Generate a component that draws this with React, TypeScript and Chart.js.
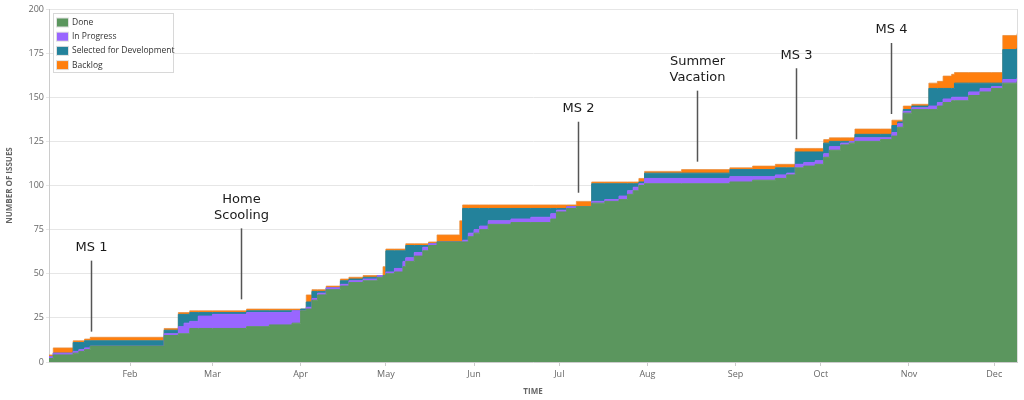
import React, { useEffect, useRef } from 'react';
import { Chart, registerables } from 'chart.js';

Chart.register(...registerables);

// Day of year (2020, Jan 1 = 0)
const days = [
  2.5, 4, 11, 13, 15, 17, 43, 48, 50, 52, 55, 60, 72, 80, 88, 91, 93, 95, 97, 100,
  105, 108, 113, 118, 120, 121, 124, 127, 128, 131, 134, 136, 139, 147, 148, 150, 152, 154, 157, 165,
  172, 179, 181, 184.6, 188, 193.4, 198, 203, 206, 208, 210, 212, 225, 242, 250, 258, 262, 265, 268, 272,
  275, 277, 281, 284, 286, 295, 299, 301, 303, 306, 312, 315, 317, 320, 321, 326, 330, 334, 338, 343,
];

// Cumulative counts: issues that reached each status
const doneCum = [
  2, 4, 5, 6, 7, 9, 15, 16, 16, 19, 19, 19, 20, 21, 22, 29, 30, 35, 38, 41,
  43, 45, 46, 48, 49, 50, 51, 54, 57, 60, 63, 66, 68, 68, 68, 71, 73, 75, 78, 79,
  79, 81, 85, 87, 88, 90, 91, 92, 95, 97, 100, 101, 101, 102, 103, 104, 106, 110, 111, 112,
  116, 120, 123, 124, 125, 126, 128, 133, 141, 143, 143, 145, 147, 148, 148, 151, 153, 155, 158, 159,
];
const inProgressCum = [
  3, 5, 6, 7, 8, 9, 16, 20, 22, 23, 26, 27, 28, 28, 29, 29, 31, 36, 39, 42,
  44, 46, 47, 49, 49, 51, 53, 57, 59, 62, 65, 67, 68, 68, 69, 73, 75, 77, 80, 81,
  82, 84, 86, 88, 88, 91, 92, 94, 97, 99, 101, 104, 104, 105, 105, 106, 107, 112, 113, 114,
  118, 122, 124, 125, 127, 127, 130, 135, 142, 144, 145, 147, 149, 150, 150, 153, 155, 156, 160, 161,
];
const selectedCum = [
  3, 5, 11, 11, 12, 12, 18, 27, 27, 28, 28, 28, 29, 29, 29, 30, 34, 40, 40, 42,
  46, 47, 48, 49, 49, 63, 63, 63, 66, 66, 66, 67, 68, 68, 87, 87, 87, 87, 87, 87,
  87, 87, 87, 88, 88, 101, 101, 101, 101, 101, 102, 107, 107, 109, 109, 110, 110, 119, 119, 119,
  124, 125, 125, 125, 129, 129, 134, 136, 143, 145, 155, 155, 155, 155, 158, 158, 158, 158, 177, 178,
];
const backlogCum = [
  4, 8, 12, 12, 13, 14, 19, 28, 28, 29, 29, 29, 30, 30, 30, 30, 38, 41, 41, 43,
  47, 48, 49, 49, 54, 64, 64, 64, 67, 67, 67, 68, 72, 80, 89, 89, 89, 89, 89, 89,
  89, 89, 89, 89, 91, 102, 102, 102, 102, 102, 104, 108, 109, 110, 111, 112, 112, 121, 121, 121,
  126, 127, 127, 127, 132, 132, 137, 137, 145, 146, 158, 159, 162, 163, 164, 164, 164, 164, 185, 186,
];

const seriesNames = ['Done', 'In Progress', 'Selected for Development', 'Backlog'];
const seriesColors = ['#5b965e', '#9966ff', '#23829b', '#ff7f0e'];
const seriesBorders = ['#5b965e', '#9966ff', '#23829b', 'rgba(230,140,60,0.75)'];

const monthDays = [31, 60, 91, 121, 152, 182, 213, 244, 274, 305, 335];
const monthLabels = ['Feb', 'Mar', 'Apr', 'May', 'Jun', 'Jul', 'Aug', 'Sep', 'Oct', 'Nov', 'Dec'];

const annLabels = [['MS 1'], ['Home', 'Scooling'], ['MS 2'], ['Summer', 'Vacation'], ['MS 3'], ['MS 4']];
const annDays = [17.2, 70.1, 188.5, 230.3, 265.1, 298.8];
const annValues = [17.2, 35.5, 95.9, 113.5, 126.2, 140.5];

const overlayPlugin = {
  id: 'overlay',
  afterDatasetsDraw(chart: any) {
    const { ctx, chartArea, scales } = chart;
    const xs = scales.x;
    const ys = scales.y;
    ctx.save();
    // right frame line
    ctx.strokeStyle = '#dddddd';
    ctx.lineWidth = 1;
    ctx.beginPath();
    ctx.moveTo(chartArea.right + 0.5, chartArea.top);
    ctx.lineTo(chartArea.right + 0.5, chartArea.bottom);
    ctx.stroke();

    // annotations
    annLabels.forEach((lines, i) => {
      const px = Math.round(xs.getPixelForValue(annDays[i])) + 0.5;
      const bottom = ys.getPixelForValue(annValues[i]);
      const top = bottom - 71;
      ctx.strokeStyle = '#555555';
      ctx.lineWidth = 1.5;
      ctx.beginPath();
      ctx.moveTo(px, bottom);
      ctx.lineTo(px, top);
      ctx.stroke();
      ctx.fillStyle = '#1a1a1a';
      ctx.font = '13px "DejaVu Sans"';
      ctx.textAlign = 'center';
      ctx.textBaseline = 'middle';
      const n = lines.length;
      lines.forEach((t, j) => {
        ctx.fillText(t, px, top - 13 - (n - 1 - j) * 16);
      });
    });

    // legend
    const lx = chartArea.left + 4;
    const ly = chartArea.top + 4;
    ctx.fillStyle = '#ffffff';
    ctx.fillRect(lx, ly, 120, 59);
    ctx.strokeStyle = '#d8d8d8';
    ctx.lineWidth = 1;
    ctx.strokeRect(lx + 0.5, ly + 0.5, 120, 59);
    ctx.font = '8.5px "Open Sans"';
    ctx.textAlign = 'left';
    ctx.textBaseline = 'middle';
    seriesNames.forEach((name, i) => {
      const cy = ly + 9.5 + i * 14.2;
      ctx.fillStyle = '#e0e0e0';
      ctx.fillRect(lx + 3, cy - 5, 13, 10);
      ctx.fillStyle = seriesColors[i];
      ctx.fillRect(lx + 4, cy - 4, 11, 8);
      ctx.fillStyle = '#333333';
      ctx.fillText(name, lx + 19, cy);
    });
    ctx.restore();
  },
};

export default function App() {
  const ref = useRef<HTMLCanvasElement>(null);

  useEffect(() => {
    document.body.style.margin = '0';
    const canvas = ref.current;
    if (!canvas) return;
    const series = [doneCum, inProgressCum, selectedCum, backlogCum];
    const chart = new Chart(canvas, {
      type: 'line',
      data: {
        datasets: series.map((arr, i) => ({
          label: seriesNames[i],
          data: days.map((d, k) => ({ x: d, y: arr[k] })),
          backgroundColor: seriesColors[i],
          borderColor: seriesBorders[i],
          borderWidth: 1,
          pointRadius: 0,
          stepped: true,
          fill: i === 0 ? 'origin' : '-1',
        })),
      },
      options: {
        animation: false,
        responsive: false,
        devicePixelRatio: 1,
        layout: { padding: { top: 9, right: 7, left: 0, bottom: 0 } },
        plugins: {
          legend: { display: false },
          tooltip: { enabled: false },
        },
        scales: {
          x: {
            type: 'linear',
            min: 2.5,
            max: 343,
            afterBuildTicks: (scale: any) => {
              scale.ticks = monthDays.map((v) => ({ value: v }));
            },
            afterFit: (scale: any) => {
              scale.height = 38;
            },
            ticks: {
              autoSkip: false,
              maxRotation: 0,
              color: '#666666',
              padding: 3,
              font: { family: '"Open Sans"', size: 9 },
              callback: (value: any) => {
                const idx = monthDays.indexOf(Number(value));
                return idx >= 0 ? monthLabels[idx] : '';
              },
            },
            grid: { drawOnChartArea: false, tickLength: 4, color: '#cccccc' },
            border: { color: '#cccccc' },
            title: {
              display: true,
              text: 'TIME',
              color: '#666666',
              font: { family: '"Open Sans"', size: 8, weight: 'bold' },
              padding: { top: 0, bottom: 3 },
            },
          },
          y: {
            min: 0,
            max: 200,
            afterFit: (scale: any) => {
              scale.width = 49;
            },
            ticks: {
              stepSize: 25,
              color: '#666666',
              padding: 2,
              font: { family: '"Open Sans"', size: 9 },
            },
            grid: { color: '#e6e6e6', tickLength: 3 },
            border: { color: '#cccccc' },
            title: {
              display: true,
              text: 'NUMBER OF ISSUES',
              color: '#666666',
              font: { family: '"Open Sans"', size: 8, weight: 'bold' },
              padding: { top: 5, bottom: 0 },
            },
          },
        },
      },
      plugins: [overlayPlugin],
    } as any);
    return () => chart.destroy();
  }, []);

  return (
    <div style={{ width: 1024, height: 400 }}>
      <canvas ref={ref} width={1024} height={400} />
    </div>
  );
}
